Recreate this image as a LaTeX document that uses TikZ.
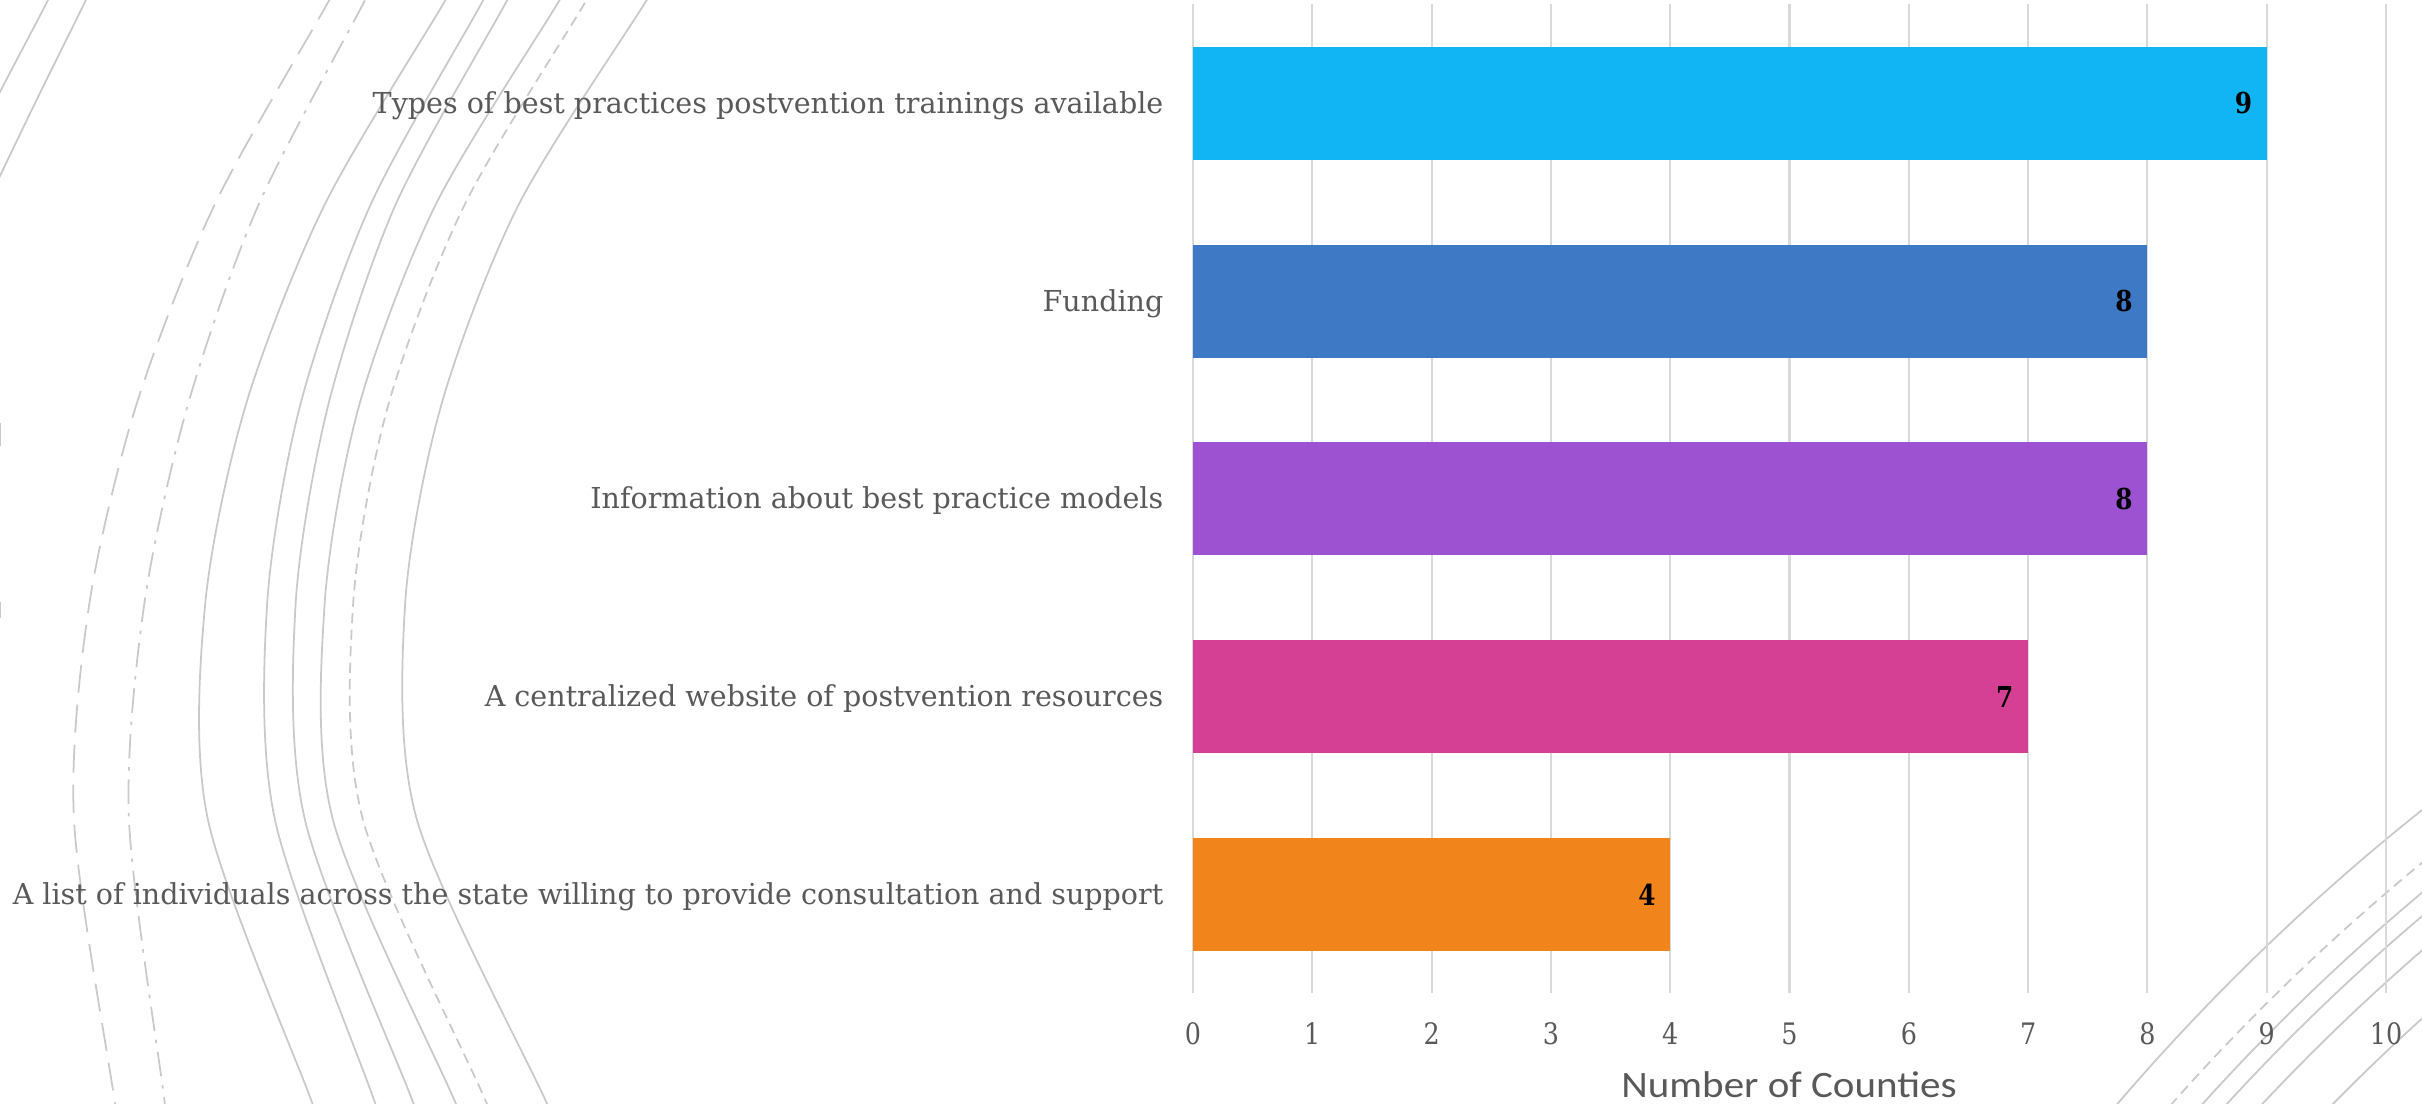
\documentclass[tikz,border=0pt]{standalone}
\usepackage{fontspec}
\newfontfamily\slabfont{DejaVu Serif}[FakeStretch=0.86]
\newfontfamily\catfont{DejaVu Serif}[FakeStretch=0.99]
\newfontfamily\titlefont{Carlito}[FakeStretch=1.1]
\definecolor{txtgrey}{HTML}{595959}
\definecolor{gridgrey}{HTML}{D9D9D9}
\definecolor{arcgrey}{HTML}{C9C9C9}
\definecolor{barA}{HTML}{12B5F3}
\definecolor{barB}{HTML}{3E79C5}
\definecolor{barC}{HTML}{9D53D1}
\definecolor{barD}{HTML}{D64094}
\definecolor{barE}{HTML}{F1841A}
\begin{document}
\begin{tikzpicture}[x=0.01cm,y=-0.01cm,
  arcline/.style={draw=arcgrey,line width=0.5pt},
  longdash/.style={arcline,dash pattern=on 8pt off 3.4pt},
  dashdot/.style={arcline,dash pattern=on 7pt off 2.5pt on 1pt off 2.5pt},
  shortdash/.style={arcline,dash pattern=on 2.9pt off 1.8pt},
  gridline/.style={draw=gridgrey,line width=0.6pt},
  catlabel/.style={font=\catfont\fontsize{8.2pt}{10pt}\selectfont,text=txtgrey,inner sep=0pt},
  ticklabel/.style={font=\slabfont\fontsize{8.4pt}{10pt}\selectfont,text=txtgrey,inner sep=0pt},
  vallabel/.style={font=\slabfont\bfseries\fontsize{8.2pt}{10pt}\selectfont,text=black,inner sep=0pt},
  axistitle/.style={font=\titlefont\fontsize{10.6pt}{12pt}\selectfont,text=txtgrey,inner sep=0pt}]
\useasboundingbox (0,0) rectangle (2422,1104);
% decorative arcs
\begin{scope}
\clip (0,0) rectangle (2422,1104);
\draw[arcline] plot[smooth] coordinates {(57,-20) (45,6) (0,92) (-20,135)};
\draw[arcline] plot[smooth] coordinates {(95,-20) (83,6) (40,93) (0,176) (-20,220)};
\draw[longdash] plot[smooth] coordinates {(352,-40) (326,6) (214,206) (136,406) (89,606) (74,820) (114,1097) (120,1140)};
\draw[dashdot] plot[smooth] coordinates {(386,-40) (362,6) (258,206) (187.5,406) (144,606) (129,820) (164,1097) (169,1140)};
\draw[arcline] plot[smooth] coordinates {(469,-40) (442,6) (324,206) (245.5,406) (205,606) (208,820) (310,1097) (326,1140)};
\draw[arcline] plot[smooth] coordinates {(505,-40) (480,6) (370,206) (300,406) (267,606) (275,820) (373,1097) (388,1140)};
\draw[arcline] plot[smooth] coordinates {(529,-40) (504,6) (395,206) (328,406) (295.5,606) (305,820) (411,1097) (427,1140)};
\draw[arcline] plot[smooth] coordinates {(584,-40) (556,6) (435,206) (359,406) (324.5,606) (333,820) (453,1097) (472,1140)};
\draw[shortdash] plot[smooth] coordinates {(610,-40) (583,6) (464,206) (388,406) (353,606) (363,820) (484,1097) (503,1140)};
\draw[arcline] plot[smooth] coordinates {(672,-40) (643,6) (518,206) (441,406) (405,606) (417,820) (544,1097) (564,1140)};
\draw[arcline] (0.5,423) -- (0.5,446);
\draw[arcline] (0.5,602) -- (0.5,618);
\coordinate (rc) at (3808,2552);
\draw[arcline] (rc) circle[radius=2226];
\draw[shortdash] (rc) circle[radius=2185];
\draw[arcline] (rc) circle[radius=2162];
\draw[arcline] (rc) circle[radius=2144];
\draw[arcline] (rc) circle[radius=2118];
\draw[arcline] (rc) circle[radius=2067];
\end{scope}
% gridlines and tick labels
\foreach \k in {0,...,10}{
  \draw[gridline] (1193+119.3*\k,4) -- (1193+119.3*\k,993);
  \node[ticklabel] (t\k) at (1193+119.3*\k,1033.5) {\k};
}
% bars
\foreach \i/\v/\c in {0/9/barA,1/8/barB,2/8/barC,3/7/barD,4/4/barE}{
  \fill[\c] (1193,47+197.7*\i) rectangle (1193+119.3*\v,160+197.7*\i);
  \node[vallabel,anchor=east] (v\i) at (1193+119.3*\v-14,103.5+197.7*\i) {\v};
}
% category labels
\node[catlabel,anchor=base east] (c0) at (1164,113.5) {Types of best practices postvention trainings available};
\node[catlabel,anchor=base east] (c1) at (1164,311.2) {Funding};
\node[catlabel,anchor=base east] (c2) at (1164,508.9) {Information about best practice models};
\node[catlabel,anchor=base east] (c3) at (1164,706.6) {A centralized website of postvention resources};
\node[catlabel,anchor=base east] (c4) at (1164,904.3) {A list of individuals across the state willing to provide consultation and support};
% axis title
\node[axistitle,anchor=base] (xt) at (1789,1097) {Number of Counties};
\end{tikzpicture}
\end{document}
